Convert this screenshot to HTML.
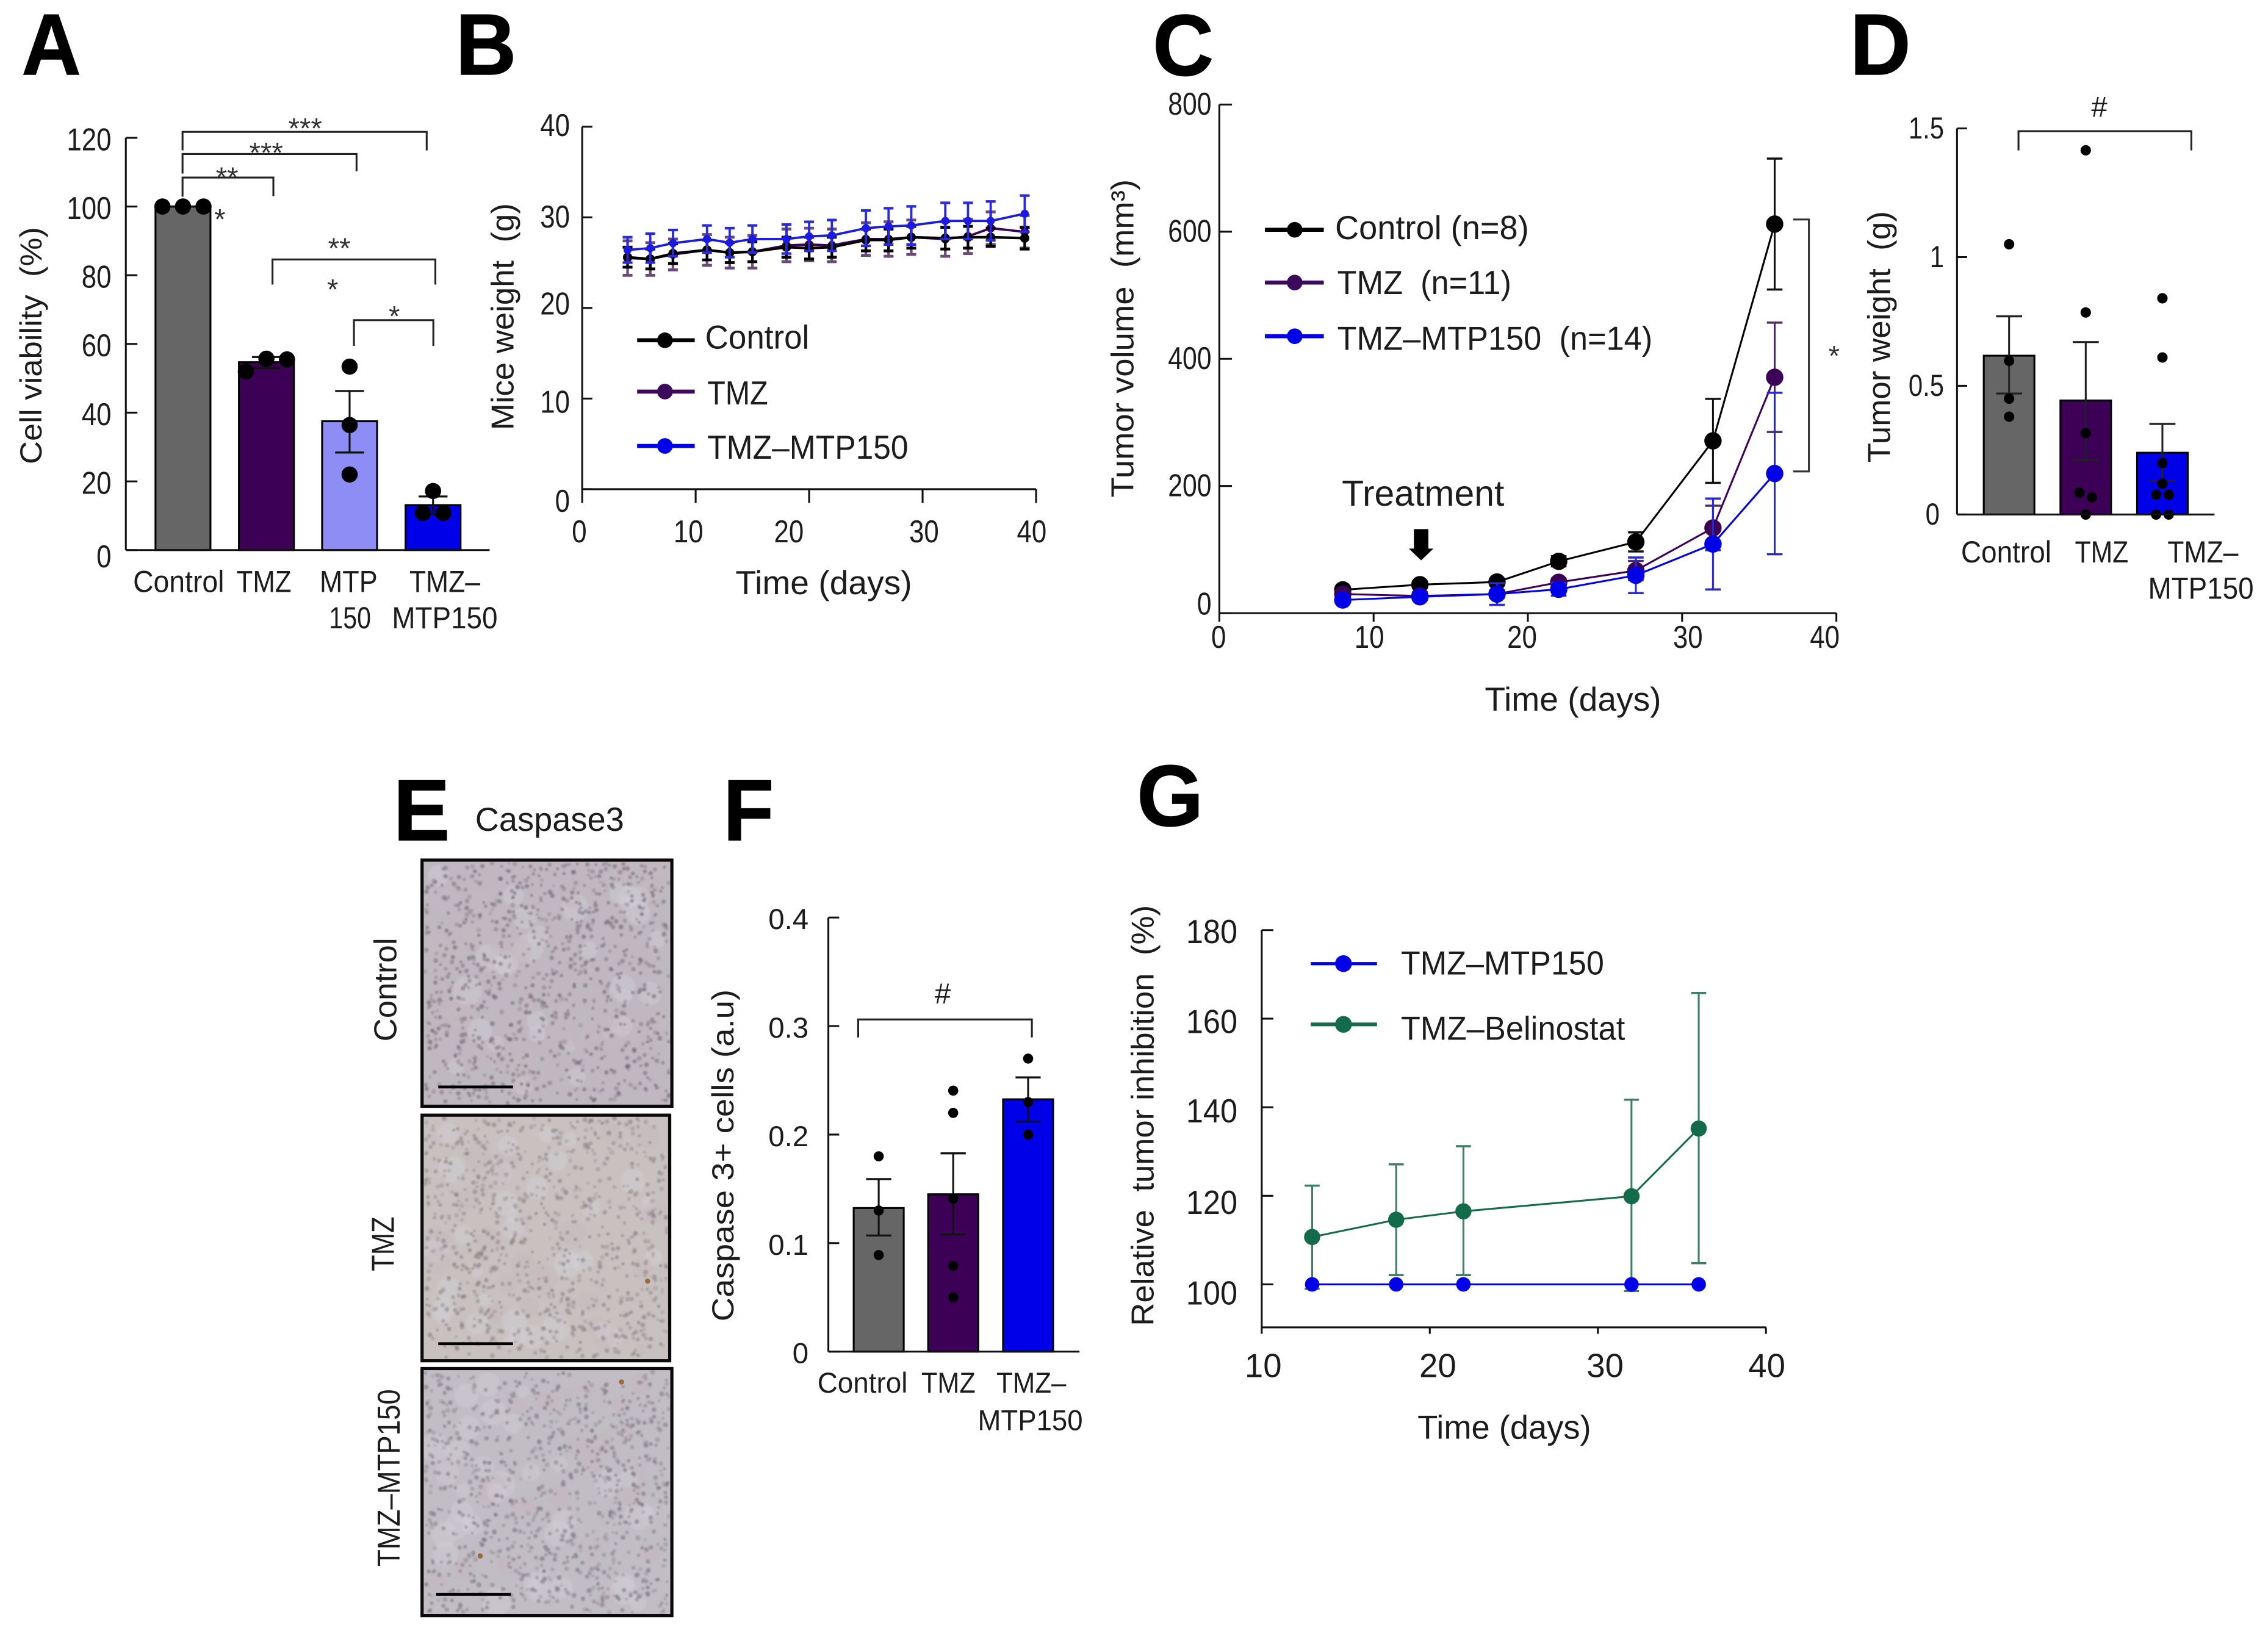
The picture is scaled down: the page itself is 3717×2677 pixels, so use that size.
<!DOCTYPE html>
<html lang="en">
<head>
<meta charset="utf-8">
<title>Multi-panel tumor study figure</title>
<style>
html,body{margin:0;padding:0;background:#fff;width:3717px;height:2677px;overflow:hidden}
svg{display:block}
text{font-family:"Liberation Sans",Arial,sans-serif;fill:#1c1c1c;white-space:pre}
</style>
</head>
<body>
<svg id="fig" xmlns="http://www.w3.org/2000/svg" width="3717" height="2677" viewBox="0 0 1568 1129.28">
<defs>
<filter id="soft" x="0" y="0" width="1" height="1"><feGaussianBlur stdDeviation="0.6"/></filter>
</defs>
<rect x="0" y="0" width="1568" height="1130" fill="#fff"/>
</svg>
<script>
// ---------- Panel A: cell viability ----------
const aCategories = ['Control', 'TMZ', 'MTP 150', 'TMZ-MTP150'];
const aMeans = [100, 54.7, 37.5, 13.1];
const aErrHigh = [100, 56.2, 46.3, 15.6];
const aErrLow = [100, 53, 28.4, 10.5];
const aPoints = [[100, 100, 100], [52, 55.7, 55.5], [53.4, 36.4, 22], [17.2, 10.8, 10.8]];
const aYTicks = [0, 20, 40, 60, 80, 100, 120];

// ---------- Panel B: mice weight ----------
const bDays = [4, 6, 8, 11, 13, 15, 18, 20, 22, 25, 27, 29, 32, 34, 36, 39];
const bControl = [25.6, 25.4, 26.0, 26.4, 26.1, 26.2, 26.7, 26.6, 26.7, 27.5, 27.5, 27.8, 27.7, 27.8, 27.8, 27.7];
const bControlErr = [1.1, 1.1, 1.1, 1.1, 1.1, 1.1, 1.1, 1.2, 1.1, 1.2, 1.2, 1.2, 1.2, 1.2, 1.0, 1.2];
const bTmz = [25.5, 25.4, 25.9, 26.4, 26.1, 26.2, 26.9, 27.0, 26.9, 27.6, 27.6, 27.8, 27.6, 27.9, 28.8, 28.4];
const bTmzErr = [1.9, 1.8, 1.7, 1.7, 1.7, 1.8, 1.8, 1.8, 1.8, 1.8, 1.9, 1.9, 1.9, 1.9, 1.8, 1.8];
const bBlue = [26.4, 26.6, 27.15, 27.6, 27.2, 27.6, 27.6, 27.9, 28.0, 28.8, 29.0, 29.1, 29.6, 29.6, 29.6, 30.4];
const bBlueErr = [1.4, 1.6, 1.45, 1.5, 1.6, 1.5, 1.6, 1.6, 1.7, 1.95, 2.0, 2.1, 2.0, 2.0, 2.15, 2.0];
const bYTicks = [0, 10, 20, 30, 40];
const bXTicks = [0, 10, 20, 30, 40];

// ---------- Panel C: tumor volume ----------
const cDays = [8, 13, 18, 22, 27, 32, 36];
const cControl = [36.7, 44.8, 49, 81.5, 112, 271, 612];
const cControlErr = [5, 5, 5, 8, 15, 66, 103];
const cTmz = [30, 27, 30, 48.5, 67, 134, 371];
const cTmzErr = [6, 6, 6, 6, 15, 35, 86];
const cBlue = [20.6, 25.7, 30, 37.5, 59.5, 108.7, 219.6];
const cBlueErr = [4, 4, 17, 10, 28, 71.5, 127];
const cYTicks = [0, 200, 400, 600, 800];
const cXTicks = [0, 10, 20, 30, 40];

// ---------- Panel D: tumor weight ----------
const dCategories = ['Control', 'TMZ', 'TMZ-MTP150'];
const dMeans = [0.617, 0.443, 0.24];
const dErrHigh = [0.77, 0.67, 0.352];
const dErrLow = [0.47, 0.212, 0.13];
const dPoints = [[1.05, 0.597, 0.45, 0.38], [1.415, 0.785, 0.316, 0.085, 0.067, 0], [0.84, 0.61, 0.2, 0.12, 0.077, 0.077, 0, 0]];
const dYTicks = [0, 0.5, 1, 1.5];

// ---------- Panel F: caspase 3 ----------
const fCategories = ['Control', 'TMZ', 'TMZ-MTP150'];
const fMeans = [0.1323, 0.145, 0.2325];
const fErrHigh = [0.159, 0.1827, 0.2527];
const fErrLow = [0.107, 0.108, 0.212];
const fPoints = [[0.18, 0.13, 0.089], [0.2405, 0.22, 0.141, 0.079, 0.05], [0.27, 0.23, 0.2]];
const fYTicks = [0, 0.1, 0.2, 0.3, 0.4];

// ---------- Panel G: relative inhibition ----------
const gDays = [13, 18, 22, 32, 36];
const gBlue = [100, 100, 100, 100, 100];
const gGreen = [110.7, 114.6, 116.5, 119.9, 135.2];
const gGreenHigh = [122.3, 127.1, 131.2, 141.7, 165.8];
const gGreenLow = [99, 102.1, 102.1, 98.5, 104.8];
const gYTicks = [100, 120, 140, 160, 180];
const gXTicks = [10, 20, 30, 40];

const NS = 'http://www.w3.org/2000/svg';
const svg = document.getElementById('fig');
const GREY = '#666666', PURPLE = '#3c0056', PERI = '#8d8df5', BLUE = '#0000e8', GREEN = '#136b4a', INK = '#111111';

function scale(d0, d1, r0, r1) {
  return function (v) { return r0 + (v - d0) * (r1 - r0) / (d1 - d0); };
}
function group(name, parent) {
  const el = document.createElementNS(NS, 'g');
  
  
  (parent || svg).appendChild(el);
  return el;
}
function line(p, name, x1, y1, x2, y2, color, w) {
  const el = document.createElementNS(NS, 'line');
  
  
  el.setAttribute('x1', x1); el.setAttribute('y1', y1);
  el.setAttribute('x2', x2); el.setAttribute('y2', y2);
  el.setAttribute('stroke', color || INK);
  el.setAttribute('stroke-width', w || 1.3);
  p.appendChild(el);
  return el;
}
function dot(p, name, x, y, r, color) {
  const el = document.createElementNS(NS, 'circle');
  
  
  el.setAttribute('cx', x); el.setAttribute('cy', y); el.setAttribute('r', r);
  el.setAttribute('fill', color);
  p.appendChild(el);
  return el;
}
function box(p, name, x, y, w, h, fill, stroke, sw) {
  const el = document.createElementNS(NS, 'rect');
  
  
  el.setAttribute('x', x); el.setAttribute('y', y);
  el.setAttribute('width', w); el.setAttribute('height', h);
  el.setAttribute('fill', fill);
  if (stroke) { el.setAttribute('stroke', stroke); el.setAttribute('stroke-width', sw || 1.2); }
  p.appendChild(el);
  return el;
}
function poly(p, name, pts, color, w) {
  const el = document.createElementNS(NS, 'polyline');
  
  
  el.setAttribute('points', pts.map(function (q) { return q[0] + ',' + q[1]; }).join(' '));
  el.setAttribute('fill', 'none');
  el.setAttribute('stroke', color || INK);
  el.setAttribute('stroke-width', w || 1.3);
  p.appendChild(el);
  return el;
}
// x,y = baseline anchor; opts: anchor, w (target width), sx, rot, weight, fill
function T(p, name, str, x, y, size, opts) {
  opts = opts || {};
  const el = document.createElementNS(NS, 'text');
  
  
  el.setAttribute('font-size', size);
  el.setAttribute('text-anchor', opts.anchor || 'start');
  if (opts.weight) el.setAttribute('font-weight', opts.weight);
  if (opts.fill) el.setAttribute('style', 'fill:' + opts.fill);
  el.textContent = str;
  p.appendChild(el);
  let sx = opts.sx || 1;
  if (opts.w) sx = opts.w / el.getComputedTextLength();
  el.setAttribute('transform', 'translate(' + x + ' ' + y + ') rotate(' + (opts.rot || 0) + ') scale(' + sx + ' 1)');
  return el;
}
function axes(p, x0, yTop, yBottom, xEnd) {
  line(p, 'y-axis', x0, yTop, x0, yBottom);
  line(p, 'x-axis', x0, yBottom, xEnd, yBottom);
}
function yTickMarks(p, ticks, y, x0, len) {
  ticks.forEach(function (v) { line(p, 'y-tick', x0, y(v), x0 + len, y(v)); });
}
function xTickMarks(p, ticks, x, y0, len) {
  ticks.forEach(function (v) { line(p, 'x-tick', x(v), y0, x(v), y0 + len); });
}
function bracket(p, name, x1, x2, y, y1, y2) {
  poly(p, name, [[x1, y1], [x1, y], [x2, y], [x2, y2]], '#222', 1.3);
}
function bars(p, means, errHigh, errLow, points, colors, xs, barW, y, capHalf, r, spread, thr, errColor) {
  means.forEach(function (m, i) {
    box(p, 'bar-' + i, xs[i] - barW / 2, y(m), barW, y(0) - y(m), colors[i], '#000', 1.3);
  });
  means.forEach(function (m, i) {
    const c = errColor || '#111';
    line(p, 'error-bar', xs[i], y(errHigh[i]), xs[i], y(errLow[i]), c, 1.3);
    line(p, 'error-cap-high', xs[i] - capHalf, y(errHigh[i]), xs[i] + capHalf, y(errHigh[i]), c, 1.4);
    line(p, 'error-cap-low', xs[i] - capHalf, y(errLow[i]), xs[i] + capHalf, y(errLow[i]), c, 1.4);
  });
  points.forEach(function (vals, i) {
    const clusters = [];
    vals.forEach(function (v) {
      const py = y(v);
      const hit = clusters.find(function (c) { return Math.abs(c.y - py) < thr; });
      if (hit) hit.items.push(py); else clusters.push({ y: py, items: [py] });
    });
    clusters.forEach(function (c) {
      c.items.forEach(function (py, k) {
        const px = xs[i] + (k - (c.items.length - 1) / 2) * spread;
        dot(p, 'data-point', px, py, r, '#000');
      });
    });
  });
}
function series(p, name, days, vals, high, low, x, y, color, errColor, lw, r, capHalf, errW) {
  const g = group(name, p);
  const ew = errW || 1.3;
  days.forEach(function (d, i) {
    line(g, 'error-bar', x(d), y(high(i)), x(d), y(low(i)), errColor, ew);
    line(g, 'error-cap-high', x(d) - capHalf, y(high(i)), x(d) + capHalf, y(high(i)), errColor, ew + 0.2);
    line(g, 'error-cap-low', x(d) - capHalf, y(low(i)), x(d) + capHalf, y(low(i)), errColor, ew + 0.2);
  });
  poly(g, 'series-line', days.map(function (d, i) { return [x(d), y(vals[i])]; }), color, lw);
  days.forEach(function (d, i) { dot(g, 'series-point', x(d), y(vals[i]), r, color); });
}
function legendRow(p, x1, x2, cx, ly, color, lw, r, label, tx, ty, tw, size) {
  const g = group('legend-entry', p);
  line(g, 'legend-line', x1, ly, x2, ly, color, lw);
  dot(g, 'legend-marker', cx, ly, r, color);
  T(g, 'legend-label', label, tx, ty, size, { w: tw });
}

// ---------- Panel letters ----------
const letters = group('panel-letters');
const big = function (name, str, x, y, w) {
  const el = T(letters, name, str, x, y, 60, { weight: 'bold', w: w, fill: '#000' });
  el.setAttribute('stroke', '#000');
  el.setAttribute('stroke-width', '0.6');
};
big('panel-label-a', 'A', 15, 51.5, 41);
big('panel-label-b', 'B', 315, 51.5, 42);
big('panel-label-c', 'C', 797, 52, 42);
big('panel-label-d', 'D', 1279, 51.5, 42);
big('panel-label-e', 'E', 272, 581, 39);
big('panel-label-f', 'F', 500, 581, 35);
big('panel-label-g', 'G', 786, 571, 46);

// ---------- Panel A ----------
(function () {
  const p = group('panel-a-cell-viability');
  const y = scale(0, 120, 380.4, 95.3);
  const xs = [126.5, 184.2, 241.7, 299.4];
  bars(p, aMeans, aErrHigh, aErrLow, aPoints, [GREY, PURPLE, PERI, BLUE], xs, 38, y, 10, 5.6, 14.2, 12);
  axes(p, 87, 95.3, 380.4, 338.5);
  yTickMarks(p, aYTicks, y, 87, 8);
  aYTicks.forEach(function (v) {
    T(p, 'y-tick-label', String(v), 77, y(v) + (v === 0 ? 12 : 8.6), 22, { anchor: 'end', sx: 0.84 });
  });
  T(p, 'y-axis-title', 'Cell viability  (%)', 28.7, 239, 21, { anchor: 'middle', rot: -90, w: 164 });
  T(p, 'category-control', 'Control', 123.5, 409.4, 21, { anchor: 'middle', w: 63 });
  T(p, 'category-tmz', 'TMZ', 182.5, 409.4, 21, { anchor: 'middle', w: 38 });
  T(p, 'category-mtp-line1', 'MTP', 241, 409.4, 21, { anchor: 'middle', w: 40 });
  T(p, 'category-mtp-line2', '150', 242, 434.5, 21, { anchor: 'middle', w: 29 });
  T(p, 'category-combo-line1', 'TMZ\u2013', 307.5, 409.4, 21, { anchor: 'middle', w: 49 });
  T(p, 'category-combo-line2', 'MTP150', 307.5, 434.5, 21, { anchor: 'middle', w: 73 });
  bracket(p, 'significance-bracket', 126.2, 295, 91.2, 104, 104);
  bracket(p, 'significance-bracket', 126.2, 246.5, 106.5, 120, 118.4);
  bracket(p, 'significance-bracket', 126.2, 189, 122.8, 136, 135.6);
  bracket(p, 'significance-bracket', 188.4, 301, 179.4, 196.8, 196.8);
  bracket(p, 'significance-bracket', 244.7, 299.6, 221.4, 239.2, 239.2);
  const s = function (str, x, c) { T(p, 'significance-stars', str, x, c + 9.5, 20, { anchor: 'middle', fill: '#333' }); };
  s('***', 211, 86); s('***', 184, 103); s('**', 157, 120); s('*', 152, 149);
  s('**', 234.6, 169); s('*', 230, 197.5); s('*', 272.6, 216);
})();

// ---------- Panel B ----------
(function () {
  const p = group('panel-b-mice-weight');
  const y = scale(0, 40, 338.3, 87.6);
  const x = scale(0, 40, 402.5, 716.3);
  axes(p, 402.5, 87.6, 338.3, 716.3);
  yTickMarks(p, bYTicks, y, 402.5, 7);
  xTickMarks(p, bXTicks, x, 338.3, 9.5);
  const yNudge = [15.7, 9.7, 4.5, 7, 6.5];
  bYTicks.forEach(function (v, i) {
    T(p, 'y-tick-label', String(v), 394, y(v) + yNudge[i], 22, { anchor: 'end', sx: 0.84 });
  });
  const xNudge = [-2, -5, -14, 1, -3];
  bXTicks.forEach(function (v, i) {
    T(p, 'x-tick-label', String(v), x(v) + xNudge[i], 375, 22, { anchor: 'middle', sx: 0.84 });
  });
  T(p, 'x-axis-title', 'Time (days)', 569.5, 410.8, 23, { anchor: 'middle', w: 122 });
  T(p, 'y-axis-title', 'Mice weight  (g)', 355, 219, 22, { anchor: 'middle', rot: -90, w: 157 });
  const hi = function (v, e) { return function (i) { return v[i] + e[i]; }; };
  const lo = function (v, e) { return function (i) { return v[i] - e[i]; }; };
  series(p, 'series-tmz', bDays, bTmz, hi(bTmz, bTmzErr), lo(bTmz, bTmzErr), x, y, PURPLE, '#6a4a78', 1.6, 3, 3.4, 1.8);
  series(p, 'series-control', bDays, bControl, hi(bControl, bControlErr), lo(bControl, bControlErr), x, y, '#000', '#000', 1.8, 3.2, 3.4, 1.8);
  series(p, 'series-tmz-mtp150', bDays, bBlue, hi(bBlue, bBlueErr), lo(bBlue, bBlueErr), x, y, '#1a1ae0', '#2a2ad8', 1.6, 2.8, 3.4, 1.6);
  const lg = group('legend', p);
  legendRow(lg, 440.5, 480.3, 459.7, 235.3, '#000', 2.8, 5.4, 'Control', 487.5, 241, 72, 23);
  legendRow(lg, 440.5, 480.3, 459.7, 270.8, '#3c0a5a', 2.8, 5.4, 'TMZ', 489, 279.7, 42, 23);
  legendRow(lg, 440.5, 480.3, 459.7, 308.4, BLUE, 2.8, 5.4, 'TMZ\u2013MTP150', 489, 317.3, 139, 23);
})();

// ---------- Panel C ----------
(function () {
  const p = group('panel-c-tumor-volume');
  const y = scale(0, 800, 424, 72.3);
  const x = scale(0, 40, 843, 1269.6);
  axes(p, 843, 72.3, 424, 1269.6);
  yTickMarks(p, cYTicks, y, 843, 8.7);
  xTickMarks(p, cXTicks, x, 424, 6);
  cYTicks.forEach(function (v) {
    T(p, 'y-tick-label', String(v), 837.6, y(v) + (v === 0 ? 1 : 7), 22, { anchor: 'end', sx: 0.82 });
  });
  const xNudge = [-0.5, -3, -4, 4, -8];
  cXTicks.forEach(function (v, i) {
    T(p, 'x-tick-label', String(v), x(v) + xNudge[i], 448, 22, { anchor: 'middle', sx: 0.84 });
  });
  T(p, 'x-axis-title', 'Time (days)', 1087.5, 491.5, 23, { anchor: 'middle', w: 122 });
  T(p, 'y-axis-title', 'Tumor volume  (mm\u00B3)', 783.5, 234, 22, { anchor: 'middle', rot: -90, w: 220 });
  const hi = function (v, e) { return function (i) { return v[i] + e[i]; }; };
  const lo = function (v, e) { return function (i) { return v[i] - e[i]; }; };
  series(p, 'series-control', cDays, cControl, hi(cControl, cControlErr), lo(cControl, cControlErr), x, y, '#000', '#111', 1.3, 6, 5.4);
  series(p, 'series-tmz', cDays, cTmz, hi(cTmz, cTmzErr), lo(cTmz, cTmzErr), x, y, PURPLE, '#4a2a6a', 1.3, 6, 5.4);
  series(p, 'series-tmz-mtp150', cDays, cBlue, hi(cBlue, cBlueErr), lo(cBlue, cBlueErr), x, y, BLUE, '#2a2ac8', 1.3, 6, 5.4);
  const lg = group('legend', p);
  legendRow(lg, 874.5, 915.2, 895.1, 158.9, '#000', 2.8, 5.4, 'Control (n=8)', 923, 165.3, 134, 23);
  legendRow(lg, 874.5, 915.2, 895.1, 195.4, '#3c0a5a', 2.8, 5.4, 'TMZ  (n=11)', 924.5, 203.4, 120.4, 23);
  legendRow(lg, 874.5, 915.2, 895.1, 232.5, BLUE, 2.8, 5.4, 'TMZ\u2013MTP150  (n=14)', 924.5, 242, 218, 23);
  poly(p, 'significance-bracket', [[1239.7, 151.8], [1250.6, 151.8], [1250.6, 326], [1239.7, 326]], '#333', 1.3);
  T(p, 'significance-star', '*', 1268, 253, 20, { anchor: 'middle', fill: '#333' });
  T(p, 'treatment-label', 'Treatment', 927.7, 349.8, 25, { w: 112.3 });
  const a = document.createElementNS(NS, 'polygon');
  
  
  a.setAttribute('points', '977.5,365.9 987.5,365.9 987.5,379.4 991,379.4 982.5,387.5 974,379.4 977.5,379.4');
  a.setAttribute('fill', '#000');
  p.appendChild(a);
})();

// ---------- Panel D ----------
(function () {
  const p = group('panel-d-tumor-weight');
  const y = scale(0, 1.5, 355.8, 88.8);
  bars(p, dMeans, dErrHigh, dErrLow, dPoints, [GREY, PURPLE, BLUE], [1389, 1442, 1495], 35, y, 9, 3.6, 8.7, 6, '#222');
  axes(p, 1353, 88.8, 355.8, 1531);
  yTickMarks(p, dYTicks, y, 1353, 7);
  dYTicks.forEach(function (v) {
    const lbl = String(v);
    T(p, 'y-tick-label', lbl, lbl === '0' ? 1341 : 1344, y(v) + 7, 21, { anchor: 'end', sx: 0.84 });
  });
  T(p, 'y-axis-title', 'Tumor weight  (g)', 1306.6, 233, 22, { anchor: 'middle', rot: -90, w: 174 });
  T(p, 'category-control', 'Control', 1387, 389, 21, { anchor: 'middle', w: 62.5 });
  T(p, 'category-tmz', 'TMZ', 1453, 389, 21, { anchor: 'middle', w: 37 });
  T(p, 'category-combo-line1', 'TMZ\u2013', 1523, 389, 21, { anchor: 'middle', w: 49 });
  T(p, 'category-combo-line2', 'MTP150', 1521.6, 414, 21, { anchor: 'middle', w: 73 });
  bracket(p, 'significance-bracket', 1395.5, 1515, 90.7, 104, 104);
  T(p, 'significance-hash', '#', 1451.4, 80.7, 20, { anchor: 'middle' });
})();

// ---------- Panel E ----------
(function () {
  const p = group('panel-e-caspase3-histology');
  T(p, 'column-title', 'Caspase3', 328.5, 574.5, 23, { w: 103 });
  let seed = 12345;
  function rnd() { seed = (seed * 1664525 + 1013904223) % 4294967296; return seed / 4294967296; }
  function tissue(name, x, y, w, h, base, dotColor, barX, barY, stains, count) {
    const g = group(name, p);
    box(g, 'tissue-background', x, y, w, h, base);
    const tex = group('tissue-texture', g);
    tex.setAttribute('filter', 'url(#soft)');
    for (let i = 0; i < 60; i++) {
      const b = document.createElementNS(NS, 'circle');
      b.setAttribute('cx', x + 8 + rnd() * (w - 16));
      b.setAttribute('cy', y + 8 + rnd() * (h - 16));
      b.setAttribute('r', 4 + rnd() * 6);
      b.setAttribute('fill', rnd() > 0.5 ? '#d4d0da' : '#c6b8bc');
      b.setAttribute('opacity', 0.35);
      tex.appendChild(b);
    }
    for (let i = 0; i < count; i++) {
      const c = document.createElementNS(NS, 'circle');
      c.setAttribute('cx', x + 2 + rnd() * (w - 4));
      c.setAttribute('cy', y + 2 + rnd() * (h - 4));
      c.setAttribute('r', 0.9 + rnd() * 0.8);
      c.setAttribute('fill', dotColor);
      c.setAttribute('opacity', 0.28 + rnd() * 0.4);
      tex.appendChild(c);
    }
    stains.forEach(function (s) {
      dot(g, 'brown-stain', s[0], s[1], 1.8, '#9a6a38');
    });
    box(g, 'image-frame', x, y, w, h, 'none', '#0a0a0a', 2.2);
    line(g, 'scale-bar', barX, barY, barX + 51.7, barY, '#000', 2);
  }
  tissue('histology-control', 291.8, 594.8, 172.7, 170.2, '#c0b8c0', '#766a78', 303, 751.7, [], 900);
  tissue('histology-tmz', 291.8, 771.2, 171.2, 169.8, '#c8c1c0', '#8a7f82', 303, 929.2, [[447.7, 886]], 820);
  tissue('histology-tmz-mtp150', 291.8, 946.4, 172.7, 170.9, '#c2bcc4', '#7e7682', 301.5, 1102.5, [[429.7, 955.7], [332, 1076]], 900);
  T(p, 'row-label-control', 'Control', 274, 684.4, 22, { anchor: 'middle', rot: -90, w: 71.7 });
  T(p, 'row-label-tmz', 'TMZ', 272.4, 860.2, 22, { anchor: 'middle', rot: -90, w: 37.7 });
  T(p, 'row-label-tmz-mtp150', 'TMZ\u2013MTP150', 276.3, 1022, 22, { anchor: 'middle', rot: -90, w: 122.6 });
})();

// ---------- Panel F ----------
(function () {
  const p = group('panel-f-caspase3-cells');
  const y = scale(0, 0.4, 934.7, 634.5);
  bars(p, fMeans, fErrHigh, fErrLow, fPoints, [GREY, PURPLE, BLUE], [607.5, 659, 710.8], 34.6, y, 8.7, 3.5, 8, 5);
  axes(p, 572.7, 634.5, 934.7, 746.3);
  yTickMarks(p, fYTicks, y, 572.7, 7.5);
  fYTicks.forEach(function (v) {
    T(p, 'y-tick-label', String(v), 559, y(v) + 8, 20, { anchor: 'end' });
  });
  T(p, 'y-axis-title', 'Caspase 3+ cells (a.u)', 507, 799, 21, { anchor: 'middle', rot: -90, w: 229.6 });
  T(p, 'category-control', 'Control', 596.3, 963, 20, { anchor: 'middle', w: 62.3 });
  T(p, 'category-tmz', 'TMZ', 655.7, 963, 20, { anchor: 'middle', w: 37.4 });
  T(p, 'category-combo-line1', 'TMZ\u2013', 713, 963, 20, { anchor: 'middle', w: 48.3 });
  T(p, 'category-combo-line2', 'MTP150', 712.3, 989, 20, { anchor: 'middle', w: 72.6 });
  bracket(p, 'significance-bracket', 593.3, 713.4, 705, 717.4, 717.4);
  T(p, 'significance-hash', '#', 651.8, 694, 20, { anchor: 'middle' });
})();

// ---------- Panel G ----------
(function () {
  const p = group('panel-g-relative-inhibition');
  const y = scale(100, 180, 888.2, 643.2);
  const x = scale(10, 40, 872.3, 1220.9);
  axes(p, 872.3, 643.2, 917.9, 1220.9);
  yTickMarks(p, gYTicks, y, 872.3, 8);
  xTickMarks(p, gXTicks, x, 917.9, 4.5);
  const yNudge = [14, 12.5, 10.5, 10, 9];
  gYTicks.forEach(function (v, i) {
    T(p, 'y-tick-label', String(v), 855.5, y(v) + yNudge[i], 23, { anchor: 'end', w: 35.5 });
  });
  const xNudge = [1, 5.5, 5, 0.6];
  gXTicks.forEach(function (v, i) {
    T(p, 'x-tick-label', String(v), x(v) + xNudge[i], 952.4, 23, { anchor: 'middle' });
  });
  T(p, 'x-axis-title', 'Time (days)', 1040, 995, 23, { anchor: 'middle', w: 120 });
  T(p, 'y-axis-title', 'Relative  tumor inhibition  (%)', 797.4, 771.5, 22, { anchor: 'middle', rot: -90, w: 291 });
  series(p, 'series-tmz-belinostat', gDays, gGreen, function (i) { return gGreenHigh[i]; }, function (i) { return gGreenLow[i]; }, x, y, GREEN, '#3d7f66', 1.3, 5.6, 5.2);
  series(p, 'series-tmz-mtp150', gDays, gBlue, function (i) { return gBlue[i]; }, function (i) { return gBlue[i]; }, x, y, BLUE, BLUE, 1.3, 5, 0);
  const lg = group('legend', p);
  legendRow(lg, 906.2, 952, 928.8, 666.4, BLUE, 2.2, 5.8, 'TMZ\u2013MTP150', 968.5, 674, 140.5, 23);
  legendRow(lg, 906.2, 952, 928.8, 708.4, GREEN, 2.6, 5.8, 'TMZ\u2013Belinostat', 968.5, 719, 155, 23);
})();
</script>
</body>
</html>
